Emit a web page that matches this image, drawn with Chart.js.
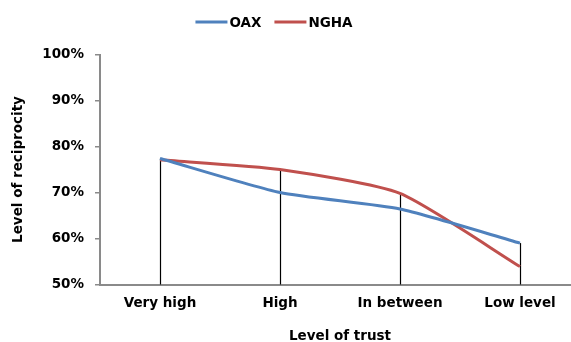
<!DOCTYPE html>
<html>
<head>
<meta charset="utf-8">
<script src="https://cdn.jsdelivr.net/npm/chart.js@4/dist/chart.umd.min.js"></script>
<style>
  html, body { margin: 0; padding: 0; background: #fff; overflow: hidden; }
  #wrap { width: 571px; height: 342px; overflow: hidden; position: relative; }
  canvas { display: block; }
</style>
</head>
<body>
<div id="wrap"><canvas id="chart" width="590" height="342"></canvas></div>
<script>
// Level of trust categories and reciprocity (%) per group
const categories = ['Very high', 'High', 'In between', 'Low level'];
const oaxValues = [77.4, 70.0, 66.4, 59.0];
const nghaValues = [77.1, 75.0, 69.8, 53.9];
const yTicks = [50, 60, 70, 80, 90, 100];

const FONT = '"DejaVu Sans", "Liberation Sans", Arial, sans-serif';
const AXIS_GREY = '#8a8a8a';

// Vertical drop lines from the highest series value down to the category axis
const dropLines = {
  id: 'dropLines',
  beforeDatasetsDraw(chart) {
    const { ctx, chartArea, scales: { x, y } } = chart;
    ctx.save();
    ctx.strokeStyle = '#000';
    ctx.lineWidth = 1.2;
    chart.data.labels.forEach((_, i) => {
      const top = Math.max(...chart.data.datasets.map(d => d.data[i]));
      const px = Math.round(x.getPixelForValue(i)) + 0.5;
      ctx.beginPath();
      ctx.moveTo(px, y.getPixelForValue(top));
      ctx.lineTo(px, chartArea.bottom);
      ctx.stroke();
    });
    ctx.restore();
  }
};

// Legend row across the top: line sample followed by the series name
const topLegend = {
  id: 'topLegend',
  afterDraw(chart) {
    const ctx = chart.ctx;
    const centerX = 274, centerY = 22, sample = 32, gap = 2, spacing = 13;
    ctx.save();
    ctx.font = 'bold 13.5px ' + FONT;
    ctx.textBaseline = 'middle';
    ctx.textAlign = 'left';
    const items = chart.data.datasets.map(d => ({
      text: d.label, color: d.borderColor, w: ctx.measureText(d.label).width
    }));
    const total = items.reduce((s, it) => s + sample + gap + it.w, 0) + spacing * (items.length - 1);
    let x = centerX - total / 2;
    items.forEach(it => {
      ctx.strokeStyle = it.color;
      ctx.lineWidth = 3;
      ctx.beginPath();
      ctx.moveTo(x, centerY);
      ctx.lineTo(x + sample, centerY);
      ctx.stroke();
      ctx.fillStyle = '#000';
      ctx.fillText(it.text, x + sample + gap, centerY + 1);
      x += sample + gap + it.w + spacing;
    });
    ctx.restore();
  }
};

Chart.defaults.font.family = FONT;
Chart.defaults.font.size = 13.5;
Chart.defaults.font.weight = 'bold';
Chart.defaults.color = '#000';

new Chart(document.getElementById('chart'), {
  type: 'line',
  data: {
    labels: categories,
    datasets: [
      { label: 'OAX', data: oaxValues, borderColor: '#4F81BD', backgroundColor: '#4F81BD',
        borderWidth: 3, pointRadius: 0, tension: 0.2, fill: false },
      { label: 'NGHA', data: nghaValues, borderColor: '#C0504D', backgroundColor: '#C0504D',
        borderWidth: 3, pointRadius: 0, tension: 0.2, fill: false }
    ]
  },
  options: {
    responsive: false,
    devicePixelRatio: 1,
    animation: false,
    events: [],
    layout: { padding: { top: 54.5, left: 0, right: 10, bottom: 0 } },
    plugins: {
      legend: { display: false },
      tooltip: { enabled: false }
    },
    scales: {
      x: {
        type: 'category',
        offset: true,
        grid: { display: false, drawTicks: false },
        border: { display: true, color: AXIS_GREY, width: 2 },
        ticks: { padding: 10.5, color: '#000', maxRotation: 0, autoSkip: false },
        title: { display: true, text: 'Level of trust', color: '#000', padding: { top: 0, bottom: -2.4 } },
        afterFit(scale) { scale.height = 57.5; }
      },
      y: {
        min: 50,
        max: 100,
        afterBuildTicks(scale) { scale.ticks = yTicks.map(v => ({ value: v })); },
        grid: { display: true, drawOnChartArea: false, drawTicks: true, tickLength: 5, color: AXIS_GREY, lineWidth: 1.5 },
        border: { display: true, color: AXIS_GREY, width: 2 },
        ticks: { padding: 11, color: '#000', callback: v => v + '%' },
        title: { display: true, text: 'Level of reciprocity', color: '#000', padding: { top: 10.5, bottom: 0 } },
        afterFit(scale) { scale.width = 100; }
      }
    }
  },
  plugins: [dropLines, topLegend]
});
</script>
</body>
</html>
